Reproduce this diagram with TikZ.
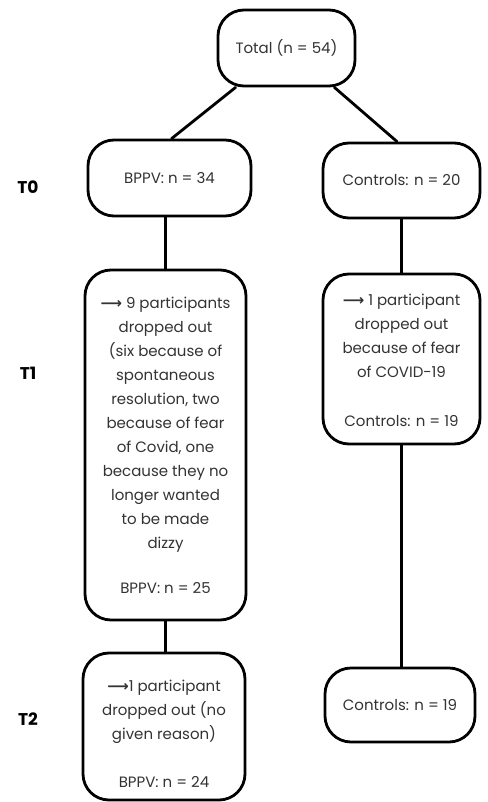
\documentclass[tikz,border=0pt]{standalone}
\usepackage{fontspec}
\setmainfont{Poppins}
\newfontfamily\symfont{DejaVu Sans}
\definecolor{txtgray}{HTML}{333333}
\newcommand{\arr}{{\symfont\bfseries ⟶}}
\begin{document}
\begin{tikzpicture}[x=1pt,y=-1pt,
  box/.style={draw=black,line width=2.8pt,rounded corners=26pt,fill=white,
    inner sep=0pt,align=center,text=txtgray,
    font=\fontsize{15}{24}\selectfont},
  tlabel/.style={font=\fontsize{17}{20}\selectfont\bfseries,text=black},
  link/.style={line width=2.8pt,line cap=round}]
\useasboundingbox (0,0) rectangle (487,802);
\fill[white] (0,0) rectangle (487,802);

\node[box,minimum width=137pt,minimum height=76pt] (total) at (286.5,48) {Total (n = 54)};
\node[box,minimum width=163pt,minimum height=76pt] (bppv0) at (169.5,178) {BPPV: n = 34};
\node[box,minimum width=157pt,minimum height=75pt] (ctrl0) at (401.5,180.5) {Controls: n = 20};

\node[box,minimum width=161pt,minimum height=350pt] (bppv1) at (165.5,445)
  {\rule{0pt}{11pt}\arr{} 9 participants\\dropped out\\(six because of\\spontaneous\\resolution, two\\because of fear\\of Covid, one\\because they no\\longer wanted\\to be made\\dizzy\\[21pt]BPPV: n = 25};
\node[box,minimum width=157pt,minimum height=170pt] (ctrl1) at (401.5,359)
  {\rule{0pt}{14pt}\arr{} 1 participant\\dropped out\\because of fear\\of COVID-19\\[25pt]Controls: n = 19};

\node[box,minimum width=162pt,minimum height=147pt] (bppv2) at (164,726.5)
  {\rule{0pt}{27pt}\arr1 participant\\dropped out (no\\given reason)\\[24pt]BPPV: n = 24};
\node[box,minimum width=150pt,minimum height=74pt] (ctrl2) at (400,705) {Controls: n = 19};

\node[tlabel] (t0) at (28,187) {T0};
\node[tlabel] (t1) at (28,373) {T1};
\node[tlabel] (t2) at (28,719) {T2};

\draw[link] ([xshift=19pt]total.south west) -- ([xshift=85pt]bppv0.north west);
\draw[link] ([xshift=-22pt]total.south east) -- ([xshift=-4.5pt]ctrl0.north);
\draw[link] (bppv0.south -| bppv1.north) -- (bppv1.north);
\draw[link] (bppv1.south) -- (bppv1.south |- bppv2.north);
\draw[link] (ctrl0.south) -- (ctrl1.north);
\draw[link] (ctrl1.south) -- (ctrl1.south |- ctrl2.north);
\end{tikzpicture}
\end{document}
